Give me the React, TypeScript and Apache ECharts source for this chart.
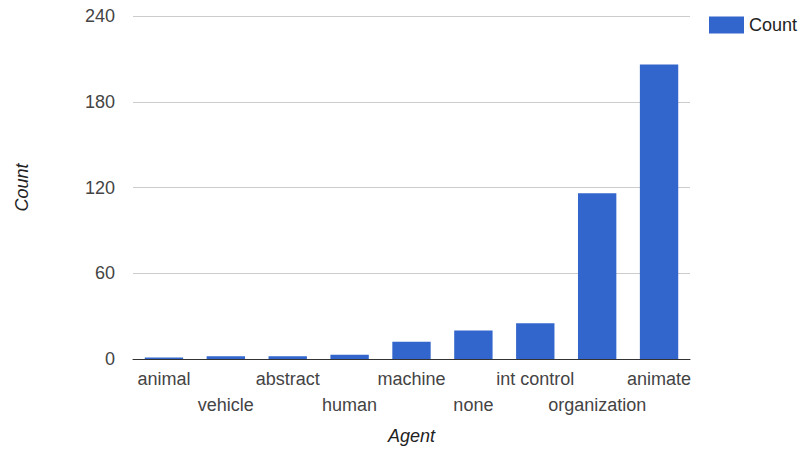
import React, { useEffect, useRef } from "react";
import * as echarts from "echarts";

// Agent categories and their counts
const categories = [
  "animal",
  "vehicle",
  "abstract",
  "human",
  "machine",
  "none",
  "int control",
  "organization",
  "animate",
];
const counts = [1, 2, 2, 3, 12, 20, 25, 116, 206];
const yTicks = { min: 0, max: 240, interval: 60 };

const FONT = "'Liberation Sans', Arial, sans-serif";

export default function App() {
  const ref = useRef<HTMLDivElement>(null);

  useEffect(() => {
    if (!ref.current) return;
    const chart = echarts.init(ref.current, undefined, { renderer: "svg" });
    chart.setOption({
      animation: false,
      textStyle: { fontFamily: FONT },
      grid: {
        left: 133,
        right: 116,
        top: 16,
        bottom: 90,
        containLabel: false,
        outerBoundsMode: "none",
      },
      legend: {
        left: 709,
        top: 16,
        padding: 0,
        itemWidth: 35,
        itemHeight: 17,
        itemGap: 8,
        icon: "rect",
        textStyle: { fontSize: 18, color: "#222", fontFamily: FONT },
        data: ["Count"],
      },
      xAxis: {
        type: "category",
        data: categories,
        name: "Agent",
        nameLocation: "middle",
        nameGap: 68,
        nameTextStyle: { fontSize: 18, fontStyle: "italic", color: "#222", fontFamily: FONT },
        axisLine: { lineStyle: { color: "#333", width: 1 } },
        axisTick: { show: false },
        axisLabel: {
          interval: 0,
          fontSize: 18,
          lineHeight: 26,
          margin: 7,
          color: "#444",
          fontFamily: FONT,
          // alternate labels between two rows so they don't collide
          formatter: (v: string, i: number) => (i % 2 ? "\n" + v : v),
        },
      },
      yAxis: {
        type: "value",
        min: yTicks.min,
        max: yTicks.max,
        interval: yTicks.interval,
        name: "Count",
        nameLocation: "middle",
        nameGap: 102,
        nameTextStyle: { fontSize: 18, fontStyle: "italic", color: "#222", fontFamily: FONT },
        axisLine: { show: false },
        axisTick: { show: false },
        axisLabel: { fontSize: 18, color: "#444", margin: 18, fontFamily: FONT },
        splitLine: { lineStyle: { color: "#ccc", width: 1 } },
      },
      series: [
        {
          name: "Count",
          type: "bar",
          data: counts,
          barCategoryGap: "38%",
          itemStyle: { color: "#3366cc" },
        },
      ],
    });
    return () => chart.dispose();
  }, []);

  return (
    <div
      ref={ref}
      style={{ position: "absolute", left: 0, top: 0, width: 806, height: 449, background: "#fff" }}
    />
  );
}
